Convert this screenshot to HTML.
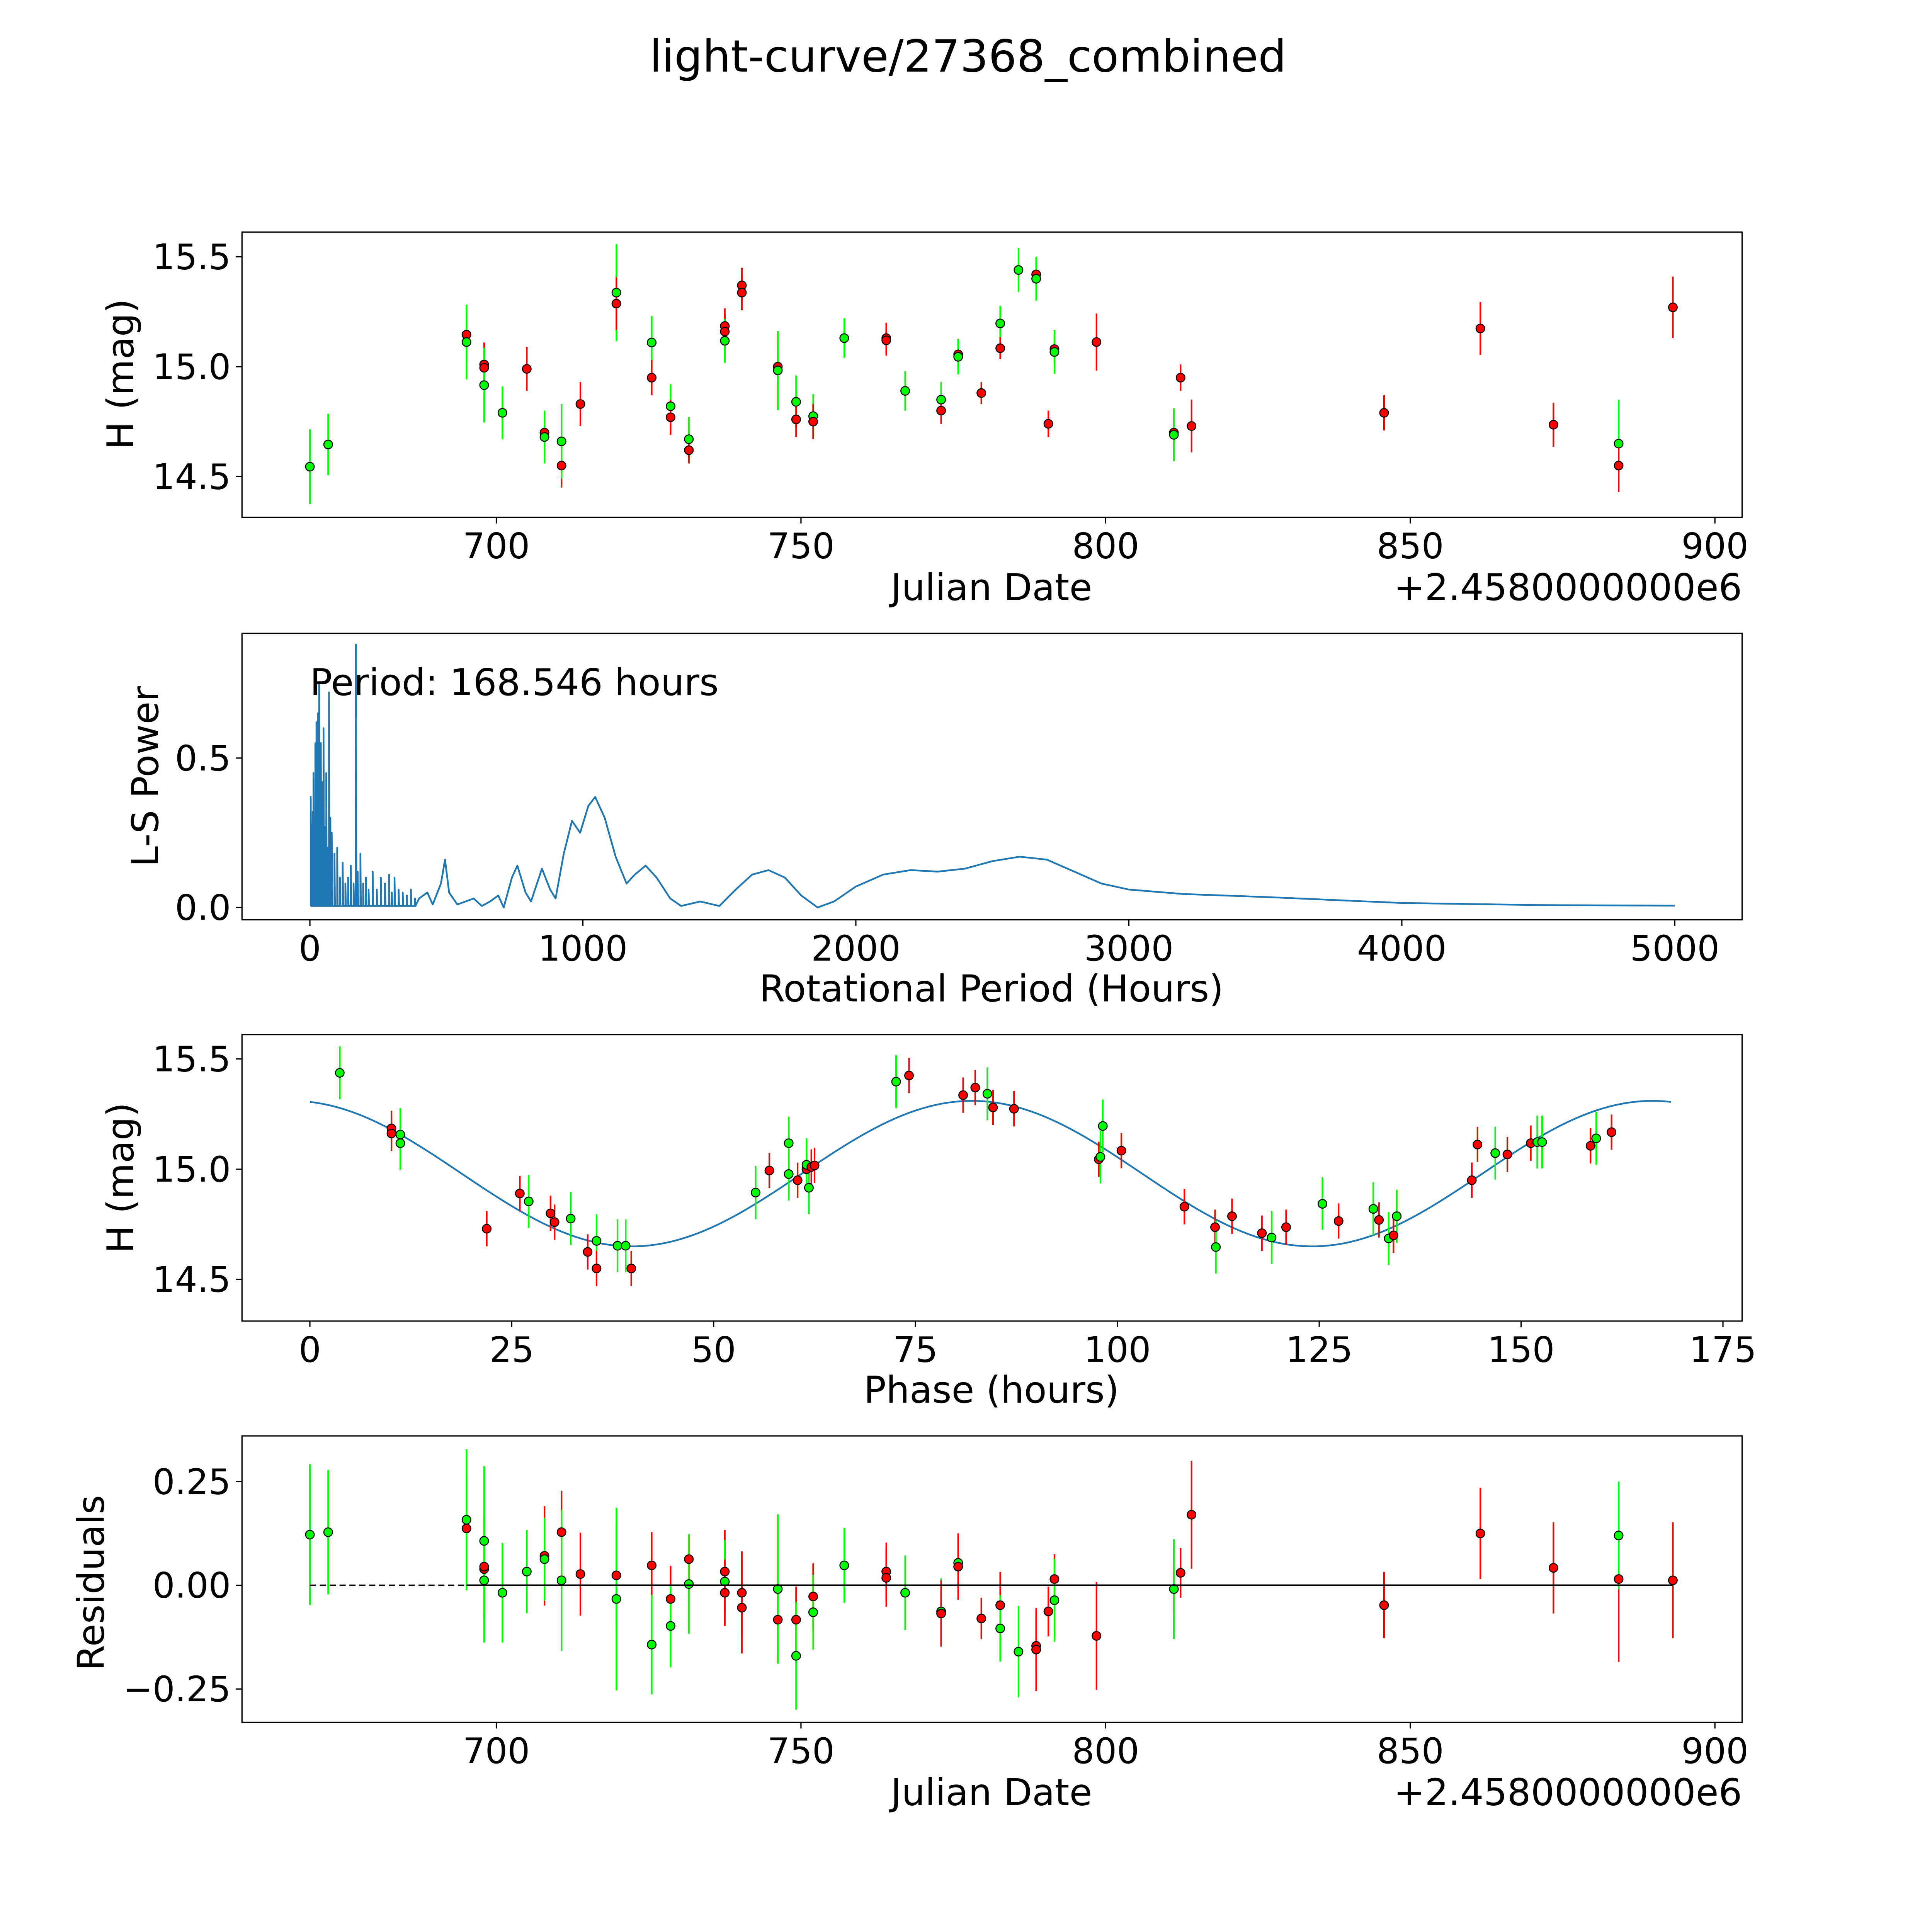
<!DOCTYPE html>
<html><head><meta charset="utf-8"><style>
html,body{margin:0;padding:0;background:#fff;width:5400px;height:5400px;overflow:hidden}
svg{display:block;position:absolute;left:0;top:0}
text{font-family:"DejaVu Sans","Liberation Sans",sans-serif;fill:#000}
</style></head><body>
<svg id="fig" xmlns="http://www.w3.org/2000/svg" width="5400" height="5400" style="width:5400px;height:5400px" viewBox="0 0 1690 1690" preserveAspectRatio="xMinYMin meet"></svg>
<script>
// ---- Panel 1: light curve (Julian Date offsets) ----
const dates1=[669.4,672.4,695.1,695.1,698,698,698,701,705,707.9,707.9,710.7,710.7,713.8,719.7,719.7,725.5,725.5,728.6,728.6,731.6,731.6,737.5,737.5,737.5,740.3,740.3,746.2,746.2,749.2,749.2,752,752,757.1,764,764,767.1,773,773,775.8,775.8,779.6,782.7,782.7,785.7,788.6,788.6,790.6,791.6,791.6,798.5,811.2,811.2,812.3,814.1,845.7,861.5,873.5,884.2,884.2,893.1];
const mags1=[14.545,14.646,15.146,15.112,15.01,14.995,14.916,14.79,14.99,14.70,14.68,14.55,14.66,14.83,15.337,15.287,15.11,14.95,14.82,14.77,14.67,14.62,15.185,15.16,15.118,15.37,15.337,15.0,14.983,14.84,14.76,14.775,14.75,15.13,15.13,15.12,14.89,14.85,14.80,15.056,15.045,14.88,15.197,15.084,15.44,15.42,15.40,14.74,15.08,15.067,15.112,14.70,14.69,14.95,14.73,14.79,15.174,14.736,14.65,14.55,15.27];
const colors1="ggrgrrggrrgrgrgrgrgrgrrrgrrrggrgrgrrggrrgrgrgrgrrgrrgrrrrrgrr".split("");
const errs1=[0.17,0.14,0.12,0.17,0.1,0.1,0.17,0.12,0.1,0.08,0.12,0.1,0.17,0.1,0.22,0.12,0.12,0.08,0.1,0.08,0.1,0.06,0.08,0.08,0.1,0.08,0.08,0.08,0.18,0.12,0.08,0.1,0.08,0.09,0.07,0.07,0.09,0.08,0.06,0.07,0.08,0.05,0.08,0.05,0.1,0.07,0.1,0.06,0.06,0.1,0.13,0.07,0.12,0.06,0.12,0.08,0.12,0.1,0.2,0.12,0.14];
const jdTicks=[700,750,800,850,900];
const magTicks=[14.5,15.0,15.5];
// ---- Panel 2: periodogram ----
const spikePeriods=[3,5,8,10,13,16,20,24,28,30,34,38,40,44,48,50,55,60,65,70,75,80,90,100,110,120,130,140,150,160,168.5,175,185,195,205,215,230,245,260,275,290,300,310,325,340,355,370,385];
const spikePowers=[0.37,0.28,0.22,0.32,0.45,0.3,0.55,0.62,0.4,0.65,0.75,0.5,0.55,0.42,0.35,0.6,0.27,0.45,0.2,0.72,0.3,0.25,0.18,0.2,0.1,0.15,0.08,0.1,0.14,0.08,0.88,0.12,0.18,0.08,0.1,0.06,0.12,0.06,0.1,0.08,0.11,0.05,0.1,0.06,0.05,0.04,0.06,0.03];
const smoothPeriods=[400,430,450,480,495,510,540,570,600,630,660,690,710,740,760,790,810,850,880,900,930,960,990,1020,1045,1080,1120,1160,1190,1230,1270,1320,1360,1430,1500,1560,1620,1680,1740,1800,1860,1920,2000,2100,2200,2300,2400,2500,2600,2700,2800,2900,3000,3200,3500,4000,4500,5000];
const smoothPowers=[0.03,0.05,0.01,0.08,0.16,0.05,0.01,0.02,0.03,0.005,0.02,0.04,0.0,0.1,0.14,0.05,0.02,0.13,0.06,0.03,0.18,0.29,0.25,0.34,0.37,0.3,0.17,0.08,0.11,0.14,0.1,0.03,0.005,0.02,0.005,0.06,0.11,0.125,0.1,0.04,0.0,0.02,0.07,0.11,0.125,0.12,0.13,0.155,0.17,0.16,0.12,0.08,0.06,0.045,0.035,0.015,0.008,0.006];
const periodTicks=[0,1000,2000,3000,4000,5000];
const powerTicks=[0.0,0.5];
// ---- Panel 3: phased ----
const phases3=[3.7,10.1,10.1,11.2,11.2,21.9,26,27.1,29.8,30.3,32.3,34.4,35.5,35.5,38.1,39.1,39.8,55.2,56.9,59.3,59.3,60.4,61.5,61.5,61.8,62.1,62.5,72.6,74.2,80.9,82.4,83.9,84.6,87.2,97.7,97.9,98.2,100.5,108.3,112.1,112.2,114.2,117.9,119.1,120.9,125.4,127.4,131.7,132.4,133.6,134.2,134.6,143.9,144.6,146.8,148.3,151.2,152,152.6,158.6,159.3,161.2];
const mags3=[15.437,15.185,15.162,15.157,15.118,14.73,14.89,14.854,14.80,14.76,14.776,14.625,14.675,14.55,14.653,14.653,14.55,14.894,14.994,14.978,15.118,14.95,15.0,15.02,14.916,15.01,15.017,15.397,15.425,15.336,15.37,15.342,15.28,15.274,15.045,15.056,15.196,15.084,14.83,14.737,14.647,14.787,14.71,14.69,14.737,14.843,14.765,14.82,14.77,14.686,14.70,14.787,14.95,15.112,15.073,15.067,15.118,15.123,15.123,15.106,15.14,15.168];
const colors3full="grrggrrgrrgrgrggrgrggrrggrrgrrrgrrrggrrrgrrgrgrgrgrgrrgrrggrgrr".split("");
const phaseTicks=[0,25,50,75,100,125,150,175];
const modelParams=[14.98,0.33,82,168.546];
// ---- Panel 4: residuals ----
const dates4=[669.4,672.4,695.1,695.1,698,698,698,698,701,705,707.9,707.9,710.7,710.7,713.8,719.7,719.7,725.5,725.5,728.6,728.6,731.6,731.6,737.5,737.5,737.5,740.3,740.3,746.2,746.2,749.2,749.2,752,752,757.1,764,764,767.1,773,773,775.8,775.8,779.6,782.7,782.7,785.7,788.6,788.6,790.6,791.6,791.6,798.5,811.2,811.2,812.3,814.1,845.7,861.5,873.5,884.2,884.2,893.1];
const resid4=[0.122,0.128,0.137,0.158,0.039,0.045,0.107,0.012,-0.018,0.033,0.071,0.063,0.128,0.012,0.027,0.024,-0.033,0.048,-0.143,-0.033,-0.098,0.063,0.003,0.033,0.009,-0.018,-0.018,-0.054,-0.083,-0.009,-0.083,-0.17,-0.027,-0.065,0.048,0.033,0.018,-0.018,-0.063,-0.068,0.054,0.045,-0.08,-0.048,-0.104,-0.16,-0.146,-0.155,-0.063,0.015,-0.036,-0.122,-0.009,-0.009,0.03,0.17,-0.048,0.125,0.042,0.015,0.12,0.012];
const colors4="ggrgrrggggrgrgrrgrgrgrgrgrrrrgrgrggrrggrgrrrggrrrrgrrgrrrrrrgrr".split("");
const errs4=[0.17,0.15,0.13,0.17,0.12,0.12,0.18,0.15,0.12,0.1,0.12,0.1,0.1,0.17,0.1,0.12,0.22,0.08,0.12,0.08,0.1,0.06,0.12,0.1,0.1,0.08,0.1,0.11,0.08,0.18,0.08,0.13,0.08,0.09,0.09,0.07,0.07,0.09,0.08,0.08,0.07,0.08,0.05,0.08,0.08,0.11,0.07,0.1,0.06,0.06,0.1,0.13,0.06,0.12,0.06,0.13,0.08,0.11,0.11,0.2,0.13,0.14];
const residTicks=[-0.25,0.0,0.25];

const NS="http://www.w3.org/2000/svg";
const svg=document.getElementById('fig');
function mk(tag,attrs,parent){const e=document.createElementNS(NS,tag);for(const k in attrs)e.setAttribute(k,attrs[k]);(parent||svg).appendChild(e);return e;}
function txt(s,x,y,size,anchor,parent,rot){const t=mk('text',{x:x,y:y,'font-size':size,'text-anchor':anchor||'middle'},parent);if(rot)t.setAttribute('transform','rotate(-90 '+x+' '+y+')');t.textContent=s;return t;}
const col=c=>c==='g'?'#00ff00':'#ff0000';
const TICK=28.5, LAB=30;

// axis functions
const sxJD=d=>402+(d-700)*4.935;
const sy1=m=>297-(m-15)*178;
const sxP=p=>251+p*0.2211;
const syP=v=>735-v*242;
const sxPh=p=>251+p*6.54;
const sy3=m=>947-(m-15)*178.6;
const syR=r=>1284-r*336;

function frame(name){
  const g=mk('g',{});
  
  
  return g;
}
function box(g,x0,y0,x1,y1){mk('rect',{x:x0,y:y0,width:x1-x0,height:y1-y0,fill:'none',stroke:'#000','stroke-width':1},g);}
function xticks(g,ticks,sx,yb,fmt){ticks.forEach(t=>{const x=sx(t);mk('line',{x1:x,x2:x,y1:yb,y2:yb+5,stroke:'#000','stroke-width':1},g);const l=txt(fmt(t),x,yb+33,TICK,'middle',g);

});}
function yticks(g,ticks,sy,xl,fmt){ticks.forEach(t=>{const y=sy(t);mk('line',{x1:xl-5,x2:xl,y1:y,y2:y,stroke:'#000','stroke-width':1},g);const l=txt(fmt(t),xl-9,y+10,TICK,'end',g);

});}
function points(g,xs,ys,errs,cols,sx,sy){
  const eg=mk('g',{},g);
  xs.forEach((x,i)=>{const px=sx(x);const e=errs?errs[i]:0;
    if(e){const ln=mk('line',{x1:px,x2:px,y1:sy(ys[i]+e),y2:sy(ys[i]-e),stroke:col(cols[i]),'stroke-width':1.3},eg);
    
    }});
  xs.forEach((x,i)=>{const c=mk('circle',{cx:sx(x),cy:sy(ys[i]),r:3.5,fill:col(cols[i]),stroke:'#000','stroke-width':0.8},g);
    
    });
}
const f1=t=>t.toFixed(1), f0=t=>String(t), f2=t=>(t<0?'\u2212':'')+Math.abs(t).toFixed(2);

// title
const ttl=txt('light-curve/27368_combined',784,58,36,'middle');



// Panel 1
const g1=frame('light-curve-panel');
points(g1,dates1,mags1,errs1,colors1,sxJD,sy1);
box(g1,196,188,1411,419);
xticks(g1,jdTicks,sxJD,419,f0);
yticks(g1,magTicks,sy1,196,f1);
let t=txt('Julian Date',803,486,LAB,'middle',g1);


t=txt('+2.4580000000e6',1411,486,LAB,'end',g1);


t=txt('H (mag)',108,303,LAB,'middle',g1,true);



// Panel 2
const g2=frame('periodogram-panel');
let pts=[];
spikePeriods.forEach((p,i)=>{pts.push(sxP(p)+','+syP(0.005));pts.push(sxP(p)+','+syP(spikePowers[i]));pts.push((sxP(p)+0.4)+','+syP(0.005));});
smoothPeriods.forEach((p,i)=>pts.push(sxP(p)+','+syP(smoothPowers[i])));
const pl=mk('polyline',{points:pts.join(' '),fill:'none',stroke:'#1f77b4','stroke-width':1.4,'stroke-linejoin':'round'},g2);


box(g2,196,513,1411,745);
xticks(g2,periodTicks,sxP,745,f0);
yticks(g2,powerTicks,syP,196,f1);
t=txt('Period: 168.546 hours',251,563,LAB,'start',g2);


t=txt('Rotational Period (Hours)',803,811,LAB,'middle',g2);


t=txt('L-S Power',128,629,LAB,'middle',g2,true);



// Panel 3
const g3=frame('phased-panel');
let mp=[];for(let i=0;i<=200;i++){const ph=modelParams[3]*i/200;const m=modelParams[0]+modelParams[1]*Math.cos(2*Math.PI*2*(ph-modelParams[2])/modelParams[3]);mp.push(sxPh(ph)+','+sy3(m));}
const ml=mk('polyline',{points:mp.join(' '),fill:'none',stroke:'#1f77b4','stroke-width':1.4},g3);


const errs3=colors3full.map(c=>c==='g'?0.12:0.08);
points(g3,phases3,mags3,errs3,colors3full,sxPh,sy3);
box(g3,196,838,1411,1070);
xticks(g3,phaseTicks,sxPh,1070,f0);
yticks(g3,magTicks,sy3,196,f1);
t=txt('Phase (hours)',803,1136,LAB,'middle',g3);


t=txt('H (mag)',108,954,LAB,'middle',g3,true);



// Panel 4
const g4=frame('residuals-panel');
points(g4,dates4,resid4,errs4,colors4,sxJD,syR);
const dl=mk('line',{x1:sxJD(669.4),x2:sxJD(893.1),y1:syR(0),y2:syR(0),stroke:'#000','stroke-width':1.2,'stroke-dasharray':'5,3'},g4);


const sl=mk('line',{x1:sxJD(695.1),x2:sxJD(893.1),y1:syR(0),y2:syR(0),stroke:'#000','stroke-width':1.4},g4);


box(g4,196,1163,1411,1395);
xticks(g4,jdTicks,sxJD,1395,f0);
yticks(g4,residTicks,syR,196,f2);
t=txt('Julian Date',803,1462,LAB,'middle',g4);


t=txt('+2.4580000000e6',1411,1462,LAB,'end',g4);


t=txt('Residuals',84,1282,LAB,'middle',g4,true);


</script>
</body></html>
